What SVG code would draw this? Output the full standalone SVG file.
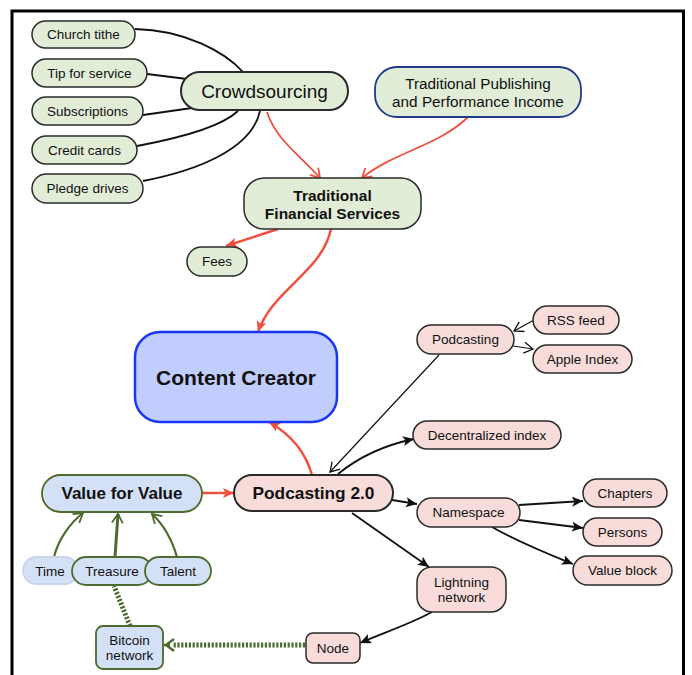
<svg xmlns="http://www.w3.org/2000/svg" width="692" height="675" viewBox="0 0 692 675">
<style>
text{font-family:"Liberation Sans",Arial,sans-serif;fill:#111;text-anchor:middle;dominant-baseline:central}
.s{font-size:13.5px}
.g rect{fill:#e2edd8;stroke:#2a2a2a;stroke-width:1.5}
.p rect{fill:#f7dcd9;stroke:#2a2a2a;stroke-width:1.5}
.b rect{fill:#d3e0f6;stroke:#4d6b2e;stroke-width:1.8}
.k{fill:none;stroke:#111;stroke-width:1.8}
.kt{fill:none;stroke:#111;stroke-width:1.2}
.r{fill:none;stroke:#f0503f;stroke-width:2.5}
.rt{fill:none;stroke:#f0503f;stroke-width:1.8}
.gr{fill:none;stroke:#4d6b2e;stroke-width:2.2}
.dash{fill:none;stroke:#4d6b2e;stroke-width:5;stroke-dasharray:2.2 1.6}
</style>
<defs>
<marker id="rf" markerUnits="userSpaceOnUse" markerWidth="14" markerHeight="12" refX="11" refY="5" orient="auto"><path d="M0,0 L11,5 L0,10 L2.5,5 z" fill="#f0503f"/></marker>
<marker id="ro" markerUnits="userSpaceOnUse" markerWidth="14" markerHeight="14" refX="10" refY="6" orient="auto"><path d="M1,0.5 L10,6 L1,11.5" fill="none" stroke="#f0503f" stroke-width="1.8"/></marker>
<marker id="kf" markerUnits="userSpaceOnUse" markerWidth="14" markerHeight="12" refX="11" refY="5" orient="auto"><path d="M0,0 L11,5 L0,10 L2.5,5 z" fill="#111"/></marker>
<marker id="ko" markerUnits="userSpaceOnUse" markerWidth="14" markerHeight="14" refX="10" refY="6" orient="auto"><path d="M1,0.5 L10,6 L1,11.5" fill="none" stroke="#111" stroke-width="1.3"/></marker>
<marker id="go" markerUnits="userSpaceOnUse" markerWidth="14" markerHeight="14" refX="10" refY="6" orient="auto"><path d="M1,0.5 L10,6 L1,11.5" fill="none" stroke="#4d6b2e" stroke-width="1.8"/></marker>
<marker id="gd" markerUnits="userSpaceOnUse" markerWidth="14" markerHeight="16" refX="10" refY="7" orient="auto"><path d="M1,1 L9,7 L1,13 M5,7 H11" fill="none" stroke="#4d6b2e" stroke-width="2.4"/></marker>
</defs>
<rect x="0" y="0" width="692" height="675" fill="#fff"/>
<path d="M12,675 V11 H683.5 V675" fill="none" stroke="#000" stroke-width="3"/>
<g id="connectors">
<path class="k" d="M135,29 C185,30 225,52 243,72"/>
<path class="k" d="M147,74 L187,79"/>
<path class="k" d="M143,115 L192,108"/>
<path class="k" d="M137,146 C180,138 222,126 238,111"/>
<path class="k" d="M143,181 C200,170 252,148 260,111"/>
<path class="rt" marker-end="url(#ro)" d="M267,112 C276,140 300,155 320,178"/>
<path class="rt" marker-end="url(#ro)" d="M468,117 C440,145 392,153 362,178"/>
<path class="r" marker-end="url(#rf)" d="M278,229 L226,246"/>
<path class="r" marker-end="url(#rf)" d="M331,229 C322,272 272,290 258,332"/>
<path class="r" marker-end="url(#rf)" d="M312,475 C305,450 290,434 269,422"/>
<path class="r" marker-end="url(#rf)" d="M202,493 L234,493"/>
<path class="kt" marker-end="url(#ko)" d="M439,355 L330,472"/>
<path class="k" marker-end="url(#kf)" d="M338,474 C360,456 385,445 414,439"/>
<path class="kt" marker-end="url(#ko)" d="M534,320 L514,331"/>
<path class="kt" marker-end="url(#ko)" d="M513,346 L533,349"/>
<path class="k" marker-end="url(#kf)" d="M392,500 L417,504"/>
<path class="k" marker-end="url(#kf)" d="M519,505 L583,501"/>
<path class="k" marker-end="url(#kf)" d="M519,520 L583,528"/>
<path class="k" marker-end="url(#kf)" d="M492,527 C520,543 548,554 573,564"/>
<path class="k" marker-end="url(#kf)" d="M352,513 L429,567"/>
<path class="k" marker-end="url(#kf)" d="M432,612 C408,625 385,632 360,643"/>
<path class="dash" d="M305,645 L172,645"/>
<path fill="none" stroke="none" marker-end="url(#gd)" d="M175,645 L165,645"/>
<path class="dash" d="M130,626 L114,586"/>
<path class="gr" marker-end="url(#go)" d="M54,557 C58,540 70,523 83,513"/>
<path class="gr" style="stroke-width:3" marker-end="url(#go)" d="M115,557 L118,514"/>
<path class="gr" marker-end="url(#go)" d="M177,557 C172,540 164,525 152,514"/>
</g>
<g id="church-tithe" class="g"><rect x="32" y="21" width="103" height="27" rx="13.5"/><text class="s" x="83.5" y="34.5">Church tithe</text></g>
<g id="tip-for-service" class="g"><rect x="32" y="59" width="115" height="28" rx="14"/><text class="s" x="89.5" y="73">Tip for service</text></g>
<g id="subscriptions" class="g"><rect x="32" y="97" width="111" height="28" rx="14"/><text class="s" x="87.5" y="111">Subscriptions</text></g>
<g id="credit-cards" class="g"><rect x="32" y="136" width="105" height="28" rx="14"/><text class="s" x="84.5" y="150">Credit cards</text></g>
<g id="pledge-drives" class="g"><rect x="32" y="174" width="111" height="29" rx="14.5"/><text class="s" x="87.5" y="188.5">Pledge drives</text></g>
<g id="crowdsourcing" class="g"><rect x="181" y="72" width="167" height="38" rx="19" style="stroke-width:2"/><text x="264.5" y="91.5" style="font-size:19px">Crowdsourcing</text></g>
<g id="traditional-publishing" class="g"><rect x="375" y="67" width="206" height="50" rx="22" style="stroke:#1f3a8a;stroke-width:1.8"/><text x="478" y="83.5" style="font-size:15.3px">Traditional Publishing</text><text x="478" y="101" style="font-size:15.3px">and Performance Income</text></g>
<g id="traditional-financial-services" class="g"><rect x="244" y="178" width="177" height="51" rx="20"/><text x="332.5" y="195" style="font-size:15.5px;font-weight:bold">Traditional</text><text x="332.5" y="213" style="font-size:15.5px;font-weight:bold">Financial Services</text></g>
<g id="fees" class="g"><rect x="187" y="247" width="60" height="29" rx="14.5"/><text class="s" x="217" y="261.5">Fees</text></g>
<g id="content-creator"><rect x="135" y="332" width="202" height="90" rx="25" fill="#c1cdfd" stroke="#1a36f5" stroke-width="2.5"/><text x="236" y="377" style="font-size:21px;font-weight:bold">Content Creator</text></g>
<g id="podcasting" class="p"><rect x="417" y="325" width="97" height="29" rx="14.5"/><text class="s" x="465.5" y="339.5">Podcasting</text></g>
<g id="rss-feed" class="p"><rect x="533" y="306" width="86" height="28" rx="14"/><text class="s" x="576" y="320">RSS feed</text></g>
<g id="apple-index" class="p"><rect x="533" y="345" width="99" height="28" rx="14"/><text class="s" x="582.5" y="359">Apple Index</text></g>
<g id="decentralized-index" class="p"><rect x="413" y="421" width="148" height="28" rx="14"/><text class="s" x="487" y="435">Decentralized index</text></g>
<g id="podcasting-2" class="p"><rect x="234" y="475" width="159" height="36" rx="18" style="stroke-width:2"/><text x="313.5" y="493" style="font-size:17.3px;font-weight:bold">Podcasting 2.0</text></g>
<g id="namespace" class="p"><rect x="417" y="498" width="103" height="29" rx="14.5"/><text class="s" x="468.5" y="512.5">Namespace</text></g>
<g id="chapters" class="p"><rect x="583" y="479" width="84" height="28" rx="14"/><text class="s" x="625" y="493">Chapters</text></g>
<g id="persons" class="p"><rect x="583" y="518" width="79" height="28" rx="14"/><text class="s" x="622.5" y="532">Persons</text></g>
<g id="value-block" class="p"><rect x="573" y="556" width="99" height="29" rx="14.5"/><text class="s" x="622.5" y="570.5">Value block</text></g>
<g id="lightning-network" class="p"><rect x="417" y="567" width="89" height="45" rx="15"/><text class="s" x="461.5" y="582">Lightning</text><text class="s" x="461.5" y="597">network</text></g>
<g id="node" class="p"><rect x="306" y="633" width="54" height="30" rx="7"/><text class="s" x="333" y="648">Node</text></g>
<g id="value-for-value" class="b"><rect x="42" y="475" width="160" height="37" rx="18.5"/><text x="122" y="493.5" style="font-size:17px;font-weight:bold">Value for Value</text></g>
<g id="time" class="b"><rect x="23" y="557" width="55" height="27" rx="13.5" style="stroke:#c7d4ea"/><text class="s" x="50" y="571">Time</text></g>
<g id="treasure" class="b"><rect x="72" y="557" width="80" height="28" rx="14"/><text class="s" x="112" y="571">Treasure</text></g>
<g id="talent" class="b"><rect x="145" y="557" width="66" height="28" rx="14"/><text class="s" x="178" y="571">Talent</text></g>
<g id="bitcoin-network" class="b"><rect x="96" y="626" width="67" height="43" rx="7"/><text class="s" x="129.5" y="640.5">Bitcoin</text><text class="s" x="129.5" y="655">network</text></g>
</svg>
